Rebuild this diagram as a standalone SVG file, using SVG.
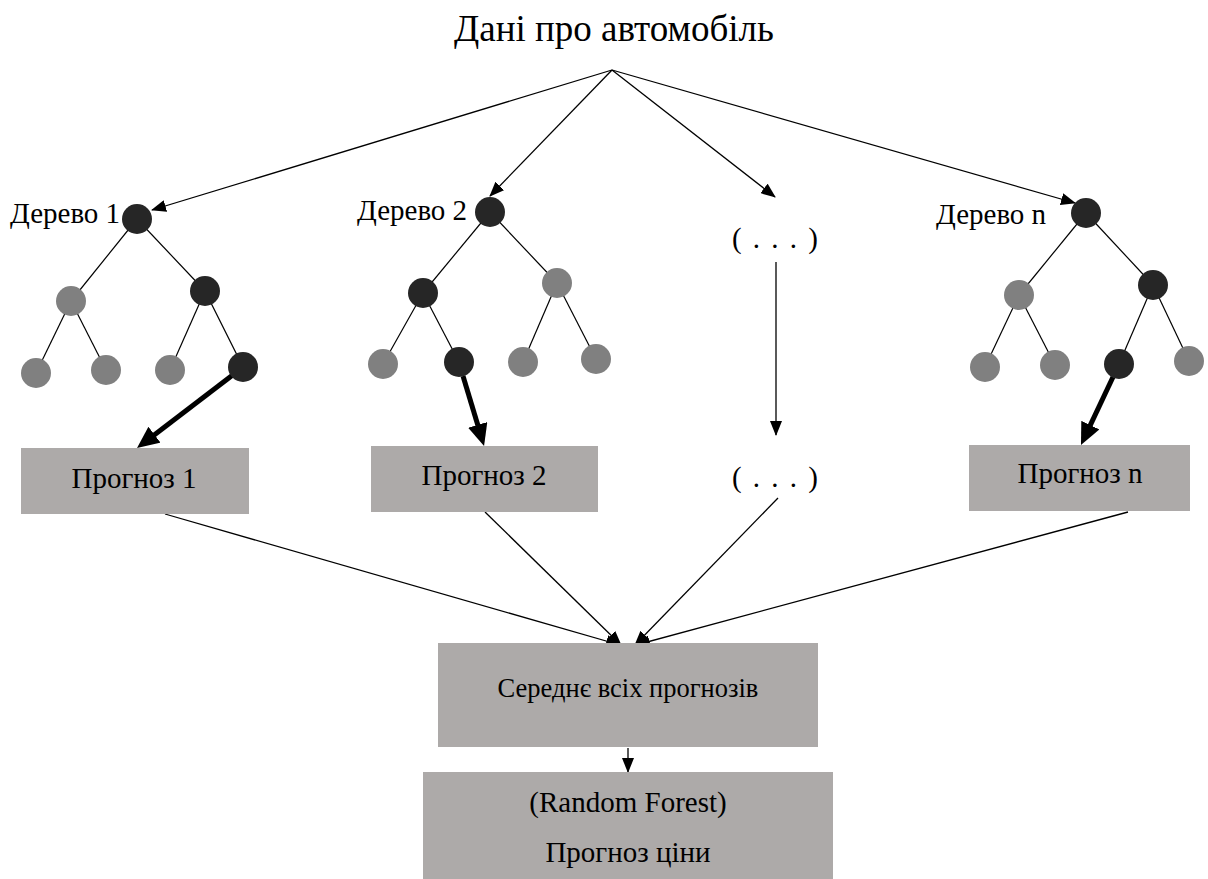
<svg xmlns="http://www.w3.org/2000/svg" width="1208" height="879" viewBox="0 0 1208 879">
<style>
text{font-family:"Liberation Serif","Times New Roman",serif;fill:#000}
.t{font-size:29px}
.ttl{font-size:37px}
.dots{font-size:29px;letter-spacing:2px}
.box{fill:#adaaa9}
.dk{fill:#262626}
.gr{fill:#808080}
.edge{stroke:#000;stroke-width:1.2;fill:none}
.c{stroke:#000;stroke-width:1.3;fill:none;marker-end:url(#ah)}
.thick{stroke:#000;stroke-width:5;fill:none;marker-end:url(#ahb)}
</style>
<defs>
<marker id="ah" markerUnits="userSpaceOnUse" markerWidth="15" markerHeight="12" refX="14" refY="6" orient="auto"><path d="M0,0 L15,6 L0,12 z" fill="#000"/></marker>
<marker id="ahb" markerUnits="userSpaceOnUse" markerWidth="24" markerHeight="20" refX="2" refY="10" orient="auto"><path d="M0,0 L22,10 L0,20 z" fill="#000"/></marker>
</defs>
<rect width="1208" height="879" fill="#fff"/>
<g id="title"><text class="ttl" x="614" y="41" text-anchor="middle">Дані про автомобіль</text></g>
<g id="connectors">
<line class="c" x1="612" y1="70" x2="152" y2="210"/>
<line class="c" x1="612" y1="70" x2="490" y2="196"/>
<line class="c" x1="612" y1="70" x2="775" y2="197"/>
<line class="c" x1="612" y1="70" x2="1075" y2="203"/>
<line class="c" x1="776" y1="262" x2="776" y2="435"/>
<line class="thick" x1="234" y1="374" x2="152.9" y2="435.9"/>
<line class="thick" x1="463" y1="376" x2="478.3" y2="426.8"/>
<line class="thick" x1="1113" y1="377" x2="1089.5" y2="426.9"/>
<line class="c" x1="165" y1="514" x2="620" y2="645"/>
<line class="c" x1="485" y1="512" x2="621" y2="645"/>
<line class="c" x1="778" y1="498" x2="635" y2="645"/>
<line class="c" x1="1128" y1="512" x2="636" y2="645"/>
<line class="c" x1="628" y1="748" x2="628" y2="772"/>
</g>
<g id="tree1">
<g class="edge"><line x1="137" y1="219" x2="71" y2="301"/><line x1="137" y1="219" x2="205" y2="291"/><line x1="71" y1="301" x2="36" y2="373"/><line x1="71" y1="301" x2="106" y2="370"/><line x1="205" y1="291" x2="170" y2="370"/><line x1="205" y1="291" x2="243" y2="367"/></g>
<circle class="dk" cx="137" cy="219" r="15"/>
<circle class="gr" cx="71" cy="301" r="15"/>
<circle class="dk" cx="205" cy="291" r="15"/>
<circle class="gr" cx="36" cy="373" r="15"/>
<circle class="gr" cx="106" cy="370" r="15"/>
<circle class="gr" cx="170" cy="370" r="15"/>
<circle class="dk" cx="243" cy="367" r="15"/>
<text class="t" x="10" y="223">Дерево 1</text>
</g>
<g id="tree2">
<g class="edge"><line x1="490" y1="212" x2="423" y2="293"/><line x1="490" y1="212" x2="557" y2="283"/><line x1="423" y1="293" x2="383" y2="364"/><line x1="423" y1="293" x2="459" y2="362"/><line x1="557" y1="283" x2="523" y2="362"/><line x1="557" y1="283" x2="596" y2="359"/></g>
<circle class="dk" cx="490" cy="212" r="15"/>
<circle class="dk" cx="423" cy="293" r="15"/>
<circle class="gr" cx="557" cy="283" r="15"/>
<circle class="gr" cx="383" cy="364" r="15"/>
<circle class="dk" cx="459" cy="362" r="15"/>
<circle class="gr" cx="523" cy="362" r="15"/>
<circle class="gr" cx="596" cy="359" r="15"/>
<text class="t" x="357" y="220">Дерево 2</text>
</g>
<g id="treen">
<g class="edge"><line x1="1086" y1="213" x2="1019" y2="295"/><line x1="1086" y1="213" x2="1153" y2="285"/><line x1="1019" y1="295" x2="985" y2="367"/><line x1="1019" y1="295" x2="1055" y2="365"/><line x1="1153" y1="285" x2="1119" y2="364"/><line x1="1153" y1="285" x2="1189" y2="361"/></g>
<circle class="dk" cx="1086" cy="213" r="15"/>
<circle class="gr" cx="1019" cy="295" r="15"/>
<circle class="dk" cx="1153" cy="285" r="15"/>
<circle class="gr" cx="985" cy="367" r="15"/>
<circle class="gr" cx="1055" cy="365" r="15"/>
<circle class="dk" cx="1119" cy="364" r="15"/>
<circle class="gr" cx="1189" cy="361" r="15"/>
<text class="t" x="936" y="224">Дерево n</text>
</g>
<g id="dots1"><text class="dots" x="776" y="248" text-anchor="middle">( . . . )</text></g>
<g id="dots2"><text class="dots" x="776" y="487" text-anchor="middle">( . . . )</text></g>
<g id="pred1"><rect class="box" x="21" y="448" width="228" height="66"/><text class="t" x="134" y="488" text-anchor="middle">Прогноз 1</text></g>
<g id="pred2"><rect class="box" x="371" y="446" width="227" height="66"/><text class="t" x="484" y="485" text-anchor="middle">Прогноз 2</text></g>
<g id="predn"><rect class="box" x="969" y="445" width="221" height="66"/><text class="t" x="1080" y="483" text-anchor="middle">Прогноз n</text></g>
<g id="avg"><rect class="box" x="438" y="643" width="380" height="104"/><text x="628" y="697" font-size="26.5" text-anchor="middle">Середнє всіх прогнозів</text></g>
<g id="result"><rect class="box" x="423" y="772" width="410" height="107"/><text class="t" x="628" y="812" text-anchor="middle">(Random Forest)</text><text class="t" x="628" y="862" text-anchor="middle">Прогноз ціни</text></g>
</svg>
